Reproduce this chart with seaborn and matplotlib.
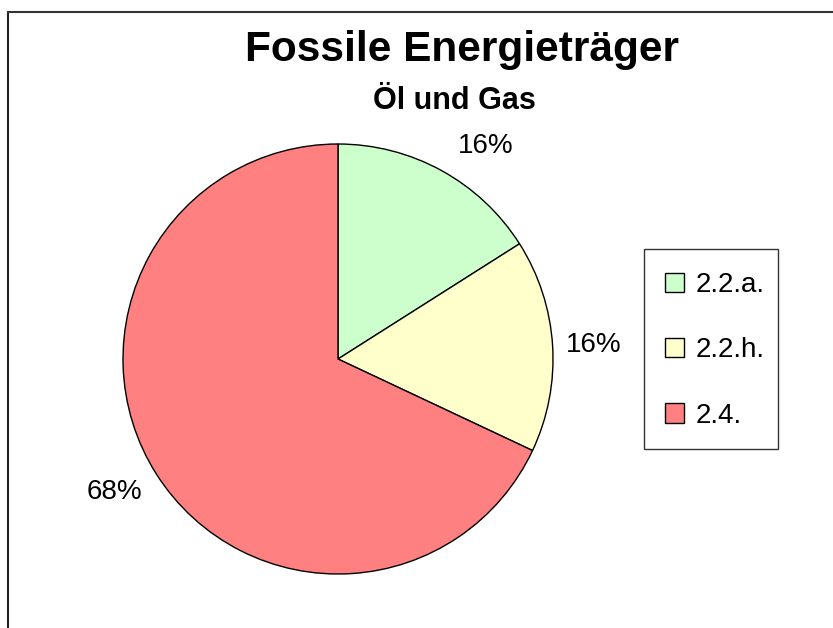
import matplotlib
matplotlib.use("Agg")
import numpy as np
import matplotlib.pyplot as plt
import seaborn as sns
from matplotlib.lines import Line2D
from matplotlib.patches import Rectangle

sns.set_theme(style="white")
plt.rcParams['font.family'] = ['Liberation Sans', 'DejaVu Sans']
plt.rcParams['text.color'] = 'black'

categories = ["2.2.a.", "2.2.h.", "2.4."]
values = [16, 16, 68]
colors = ["#CCFFCC", "#FFFFCC", "#FF8080"]
title = "Fossile Energieträger"
subtitle = "Öl und Gas"

# label placement nudges (degrees, radius multiples)
label_angle_nudge = [-6.0, -0.5, -1.7]
label_dist = [1.205, 1.19, 1.21]

W, H = 833, 628
fig = plt.figure(figsize=(W / 100, H / 100), dpi=100)
fig.patch.set_facecolor("white")

cx, cy, r = 338, 359, 215
ax = fig.add_axes([(cx - r) / W, (H - cy - r) / H, 2 * r / W, 2 * r / H])
wedges, texts, autotexts = ax.pie(
    values, colors=colors, startangle=90, counterclock=False,
    autopct=lambda p: f"{p:.0f}%", pctdistance=1.2, radius=1,
    wedgeprops=dict(edgecolor="black", linewidth=1.0),
    textprops=dict(fontsize=20, color="black"),
)
for w, t, da, d in zip(wedges, autotexts, label_angle_nudge, label_dist):
    th = np.deg2rad((w.theta1 + w.theta2) / 2 + da)
    t.set_position((d * np.cos(th), d * np.sin(th)))
    t.set_clip_on(False)
ax.set_xlim(-1, 1)
ax.set_ylim(-1, 1)
ax.axis("off")

# legend box
fig.add_artist(Rectangle((644 / W, 1 - 449 / H), 134 / W, 200 / H,
                         transform=fig.transFigure, facecolor="white",
                         edgecolor="#333333", linewidth=1.0, zorder=1))
leg = fig.legend(
    wedges, categories, loc="upper left",
    bbox_to_anchor=(665 / W, 1 - 272 / H), bbox_transform=fig.transFigure,
    fontsize=20, frameon=False,
    handlelength=0.7, handleheight=0.7, handletextpad=0.4,
    labelspacing=1.42, borderpad=0.0, borderaxespad=0,
)
leg.set_zorder(2)
for txt in leg.get_texts():
    txt.set_color("black")

fig.text(462 / W, 1 - 50 / H, title, ha="center", va="center",
         fontsize=30.5, fontweight="bold", color="black")
fig.text(454 / W, 1 - 101 / H, subtitle, ha="center", va="center",
         fontsize=22, fontweight="bold", color="black")

fig.add_artist(Line2D([8 / W, 8 / W], [0, 1 - 12 / H], transform=fig.transFigure,
                      color="#222222", linewidth=1.5))
fig.add_artist(Line2D([8 / W, 1], [1 - 12 / H, 1 - 12 / H], transform=fig.transFigure,
                      color="#333333", linewidth=1.5))

fig.savefig("out.png", dpi=100)
